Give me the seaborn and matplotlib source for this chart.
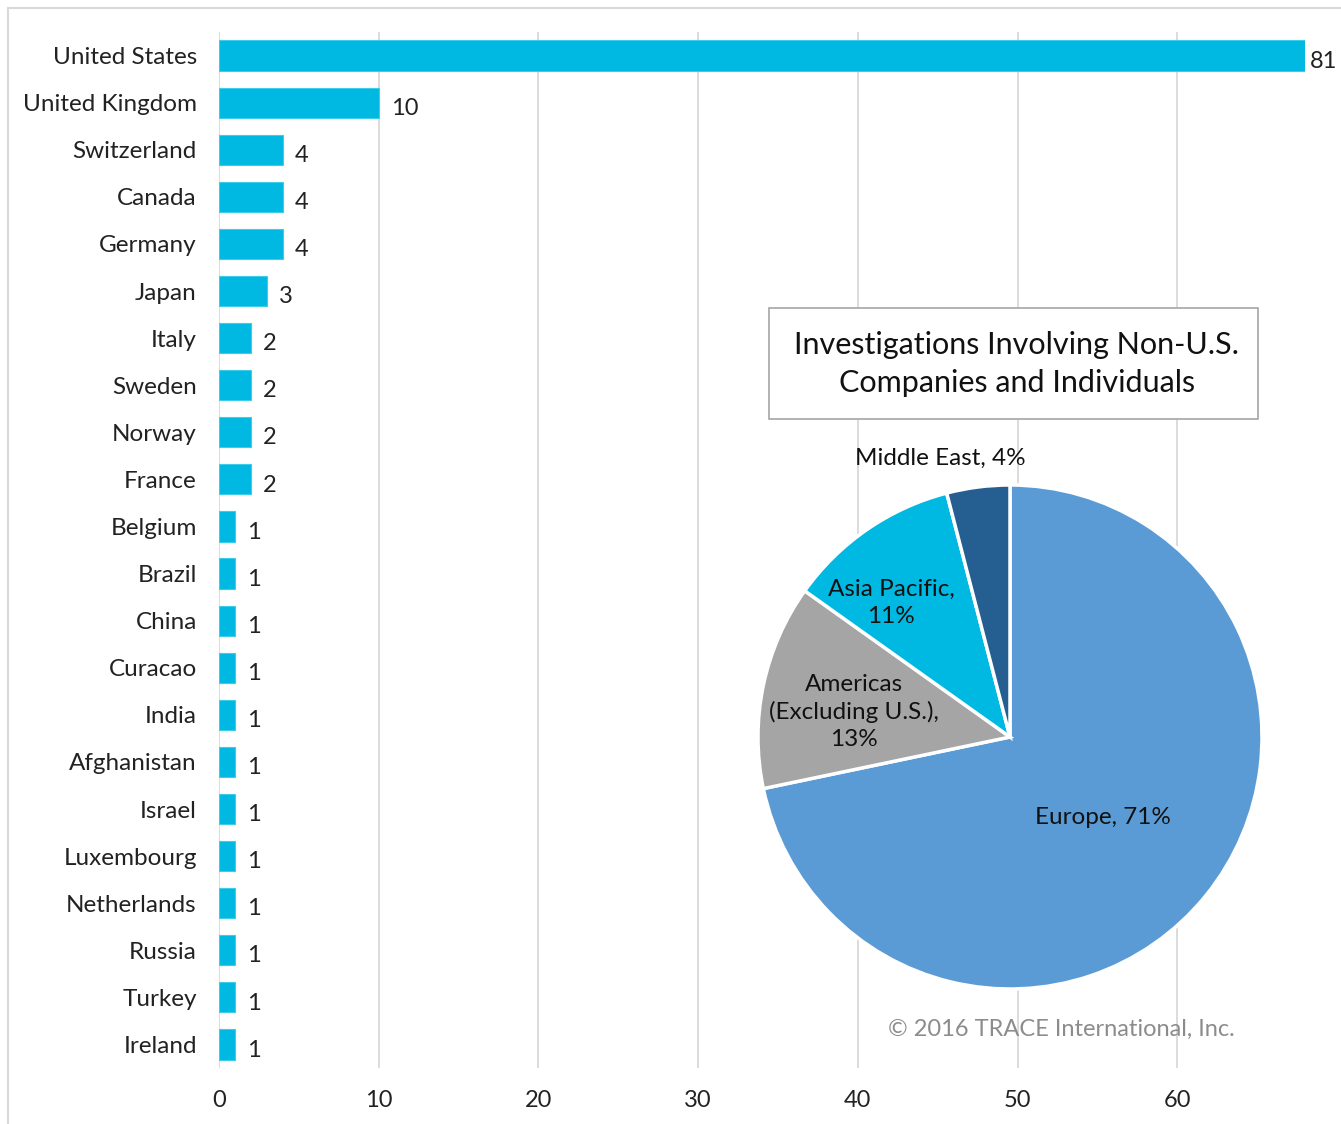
import matplotlib
matplotlib.use("Agg")
import matplotlib.pyplot as plt
import seaborn as sns
import pandas as pd
from matplotlib.patches import Rectangle

countries = ["United States", "United Kingdom", "Switzerland", "Canada", "Germany",
             "Japan", "Italy", "Sweden", "Norway", "France", "Belgium", "Brazil",
             "China", "Curacao", "India", "Afghanistan", "Israel", "Luxembourg",
             "Netherlands", "Russia", "Turkey", "Ireland"]
counts = [81, 10, 4, 4, 4, 3, 2, 2, 2, 2, 1, 1, 1, 1, 1, 1, 1, 1, 1, 1, 1, 1]
x_ticks = [0, 10, 20, 30, 40, 50, 60]

regions = ["Europe", "Americas\n(Excluding U.S.)", "Asia Pacific", "Middle East"]
region_pct = [71, 13, 11, 4]
region_labels = ["Europe, 71%", "Americas\n(Excluding U.S.),\n13%", "Asia Pacific,\n11%", "Middle East, 4%"]

pie_title = "Investigations Involving Non-U.S.\nCompanies and Individuals"
copyright_text = "© 2016 TRACE International, Inc."

sns.set_theme(style="white")
plt.rcParams['font.family'] = ['Lato', 'DejaVu Sans']

BAR = "#00B9E2"
fig = plt.figure(figsize=(13.41, 11.24), dpi=100)

# outer frame
fig.add_artist(Rectangle((8/1341, -0.05), 1.2, 1 - 8/1124 + 0.05, transform=fig.transFigure,
                         fill=False, edgecolor="#d9d9d9", linewidth=1.5))

ax = fig.add_axes([219/1341, 1 - 1068/1124, (1305 - 219)/1341, (1068 - 32)/1124])
df = pd.DataFrame({"country": countries, "count": counts})
sns.barplot(data=df, x="count", y="country", orient="h", color=BAR, width=0.64,
            saturation=1, ax=ax, edgecolor="#3fcbea", linewidth=0.8)
xmax = 68
ax.set_xlim(0, xmax)
ax.set_xticks(x_ticks)
ax.set_xlabel("")
ax.set_ylabel("")
for s in ax.spines.values():
    s.set_visible(False)
ax.grid(axis="x", color="#d9d9d9", linewidth=1.3)
ax.grid(axis="y", visible=False)
ax.set_axisbelow(True)
ax.tick_params(axis="y", labelsize=17.5, colors="#222222", pad=16, length=0)
ax.tick_params(axis="x", labelsize=17, colors="#222222", pad=16, length=0)

for i, v in enumerate(counts):
    xv = min(v, xmax)
    off = 0.3 if v > xmax else 0.75
    ax.text(xv + off, i + 0.12, str(v), va="center", ha="left", fontsize=17,
            color="#222222", clip_on=False)

# pie
r = 252
cx, cy = 1010, 737
pax = fig.add_axes([(cx - r)/1341, 1 - (cy + r)/1124, 2*r/1341, 2*r/1124])
pie_colors = ["#5B9BD5", "#A5A5A5", "#00B9E2", "#255E91"]
wedges, _ = pax.pie(region_pct, colors=pie_colors, startangle=90, counterclock=False,
                    wedgeprops=dict(edgecolor="white", linewidth=2.5), radius=1.0)
pax.set_xlim(-1, 1)
pax.set_ylim(-1, 1)
pax.set_aspect("auto")

def fpos(px, py):
    return ((px - cx)/r, -(py - cy)/r)

label_pos = [(1103, 818), (854, 712), (891, 603), (940, 458)]
for lab, (px, py) in zip(region_labels, label_pos):
    x, y = fpos(px, py)
    pax.text(x, y, lab, ha="center", va="center", fontsize=17.5, color="#111111",
             linespacing=1.35, clip_on=False)

# title box
fig.add_artist(Rectangle((769/1341, 1 - 419/1124), (1258 - 769)/1341, (419 - 308)/1124,
                         transform=fig.transFigure, facecolor="white", edgecolor="#a6a6a6",
                         linewidth=1.2))
fig.text(1017/1341, 1 - 364/1124, pie_title, ha="center", va="center", fontsize=22,
         color="#111111", linespacing=1.4)

fig.text(1061/1341, 1 - 1029/1124, copyright_text, ha="center", va="center", fontsize=17,
         color="#8c8c8c")

fig.savefig("out.png", dpi=100)
